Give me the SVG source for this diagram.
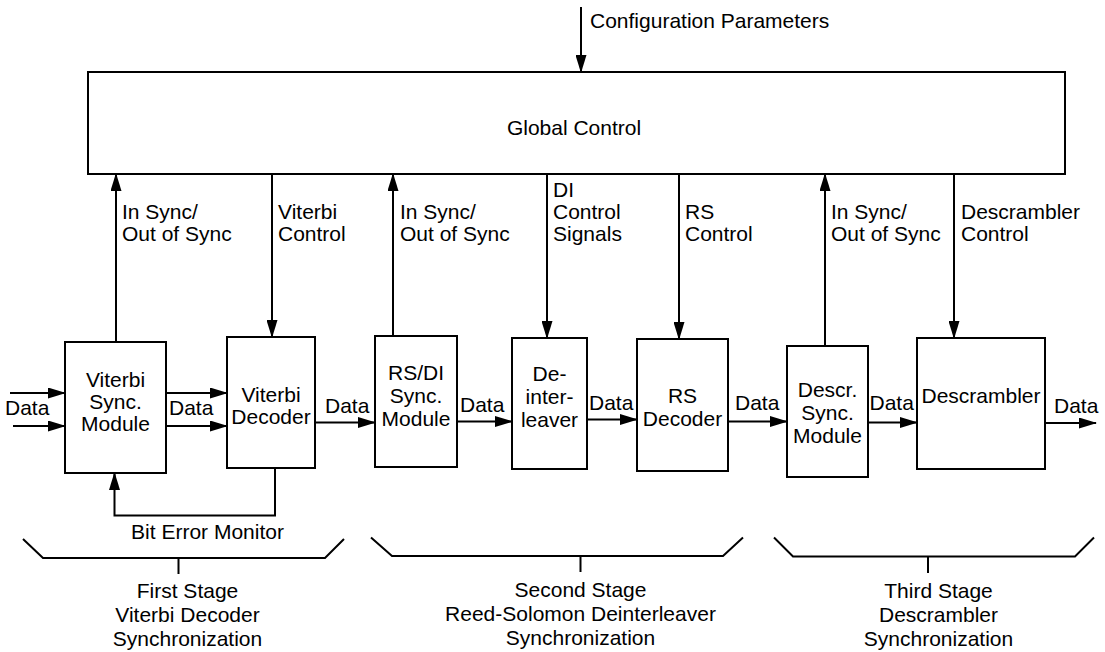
<svg xmlns="http://www.w3.org/2000/svg" width="1105" height="652" viewBox="0 0 1105 652">
<defs>
<marker id="ah" markerUnits="userSpaceOnUse" markerWidth="18" markerHeight="11" refX="17" refY="5.5" orient="auto"><path d="M0,0 L18,5.5 L0,11 Z" fill="#000"/></marker>
</defs>
<style>
text{font-family:"Liberation Sans",Arial,Helvetica,sans-serif;font-size:21px;fill:#000}
.box{fill:#fff;stroke:#000;stroke-width:2}
.c{text-anchor:middle}
.ln{fill:none;stroke:#000;stroke-width:2}
.arr{marker-end:url(#ah)}
</style>
<rect width="1105" height="652" fill="#fff"/>

<g id="global-control">
<rect class="box" x="88" y="72" width="977" height="102"/>
<text class="c" x="574" y="135">Global Control</text>
</g>

<g id="viterbi-sync">
<rect class="box" x="65" y="342" width="101" height="131"/>
<text class="c" x="115.5" y="387">Viterbi</text>
<text class="c" x="115.5" y="409">Sync.</text>
<text class="c" x="115.5" y="431">Module</text>
</g>

<g id="viterbi-decoder">
<rect class="box" x="227" y="337" width="88" height="131"/>
<text class="c" x="271" y="402">Viterbi</text>
<text class="c" x="271" y="424">Decoder</text>
</g>

<g id="rsdi-sync">
<rect class="box" x="375" y="336" width="82" height="131"/>
<text class="c" x="416" y="380">RS/DI</text>
<text class="c" x="416" y="403">Sync.</text>
<text class="c" x="416" y="426">Module</text>
</g>

<g id="deinterleaver">
<rect class="box" x="512" y="338" width="75" height="131"/>
<text class="c" x="549.5" y="381">De-</text>
<text class="c" x="549.5" y="404">inter-</text>
<text class="c" x="549.5" y="427">leaver</text>
</g>

<g id="rs-decoder">
<rect class="box" x="637" y="339" width="91" height="132"/>
<text class="c" x="682.5" y="403">RS</text>
<text class="c" x="682.5" y="426">Decoder</text>
</g>

<g id="descr-sync">
<rect class="box" x="787" y="346" width="81" height="131"/>
<text class="c" x="827.5" y="397">Descr.</text>
<text class="c" x="827.5" y="420">Sync.</text>
<text class="c" x="827.5" y="443">Module</text>
</g>

<g id="descrambler">
<rect class="box" x="917" y="338" width="128" height="131"/>
<text class="c" x="981" y="403">Descrambler</text>
</g>

<g id="connectors">
<line class="ln arr" x1="581" y1="7" x2="581" y2="72"/>
<line class="ln arr" x1="116" y1="342" x2="116" y2="174"/>
<line class="ln arr" x1="272" y1="174" x2="272" y2="337"/>
<line class="ln arr" x1="393" y1="336" x2="393" y2="174"/>
<line class="ln arr" x1="547" y1="174" x2="547" y2="338"/>
<line class="ln arr" x1="679" y1="174" x2="679" y2="339"/>
<line class="ln arr" x1="825" y1="346" x2="825" y2="174"/>
<line class="ln arr" x1="954" y1="174" x2="954" y2="338"/>

<line class="ln arr" x1="10" y1="393" x2="65" y2="393"/>
<line class="ln arr" x1="13" y1="426" x2="65" y2="426"/>
<line class="ln arr" x1="166" y1="393" x2="227" y2="393"/>
<line class="ln arr" x1="166" y1="426" x2="227" y2="426"/>
<line class="ln arr" x1="315" y1="422.5" x2="375" y2="422.5"/>
<line class="ln arr" x1="457" y1="421.5" x2="512" y2="421.5"/>
<line class="ln arr" x1="587" y1="419.5" x2="637" y2="419.5"/>
<line class="ln arr" x1="728" y1="421.5" x2="787" y2="421.5"/>
<line class="ln arr" x1="868" y1="422.5" x2="917" y2="422.5"/>
<line class="ln arr" x1="1045" y1="423" x2="1096" y2="423"/>

<polyline class="ln arr" points="275,468 275,515.5 114.5,515.5 114.5,473"/>
</g>

<g id="connector-labels">
<text x="590" y="28">Configuration Parameters</text>
<text x="122" y="219">In Sync/</text>
<text x="122" y="241">Out of Sync</text>
<text x="278" y="219">Viterbi</text>
<text x="278" y="241">Control</text>
<text x="400" y="219">In Sync/</text>
<text x="400" y="241">Out of Sync</text>
<text x="553" y="197">DI</text>
<text x="553" y="219">Control</text>
<text x="553" y="241">Signals</text>
<text x="685" y="219">RS</text>
<text x="685" y="241">Control</text>
<text x="831" y="219">In Sync/</text>
<text x="831" y="241">Out of Sync</text>
<text x="961" y="219">Descrambler</text>
<text x="961" y="241">Control</text>

<text x="5" y="415">Data</text>
<text x="169" y="415">Data</text>
<text x="325" y="413">Data</text>
<text x="460" y="412">Data</text>
<text x="589" y="410">Data</text>
<text x="735" y="410">Data</text>
<text x="869.5" y="410">Data</text>
<text x="1054" y="413">Data</text>
<text class="c" x="207.5" y="539">Bit Error Monitor</text>
</g>

<g id="stages">
<polyline class="ln" points="23,539 43,558 325,558 344,539"/>
<line class="ln" x1="178.5" y1="558" x2="178.5" y2="574"/>
<text class="c" x="187.5" y="598">First Stage</text>
<text class="c" x="187.5" y="622">Viterbi Decoder</text>
<text class="c" x="187.5" y="646">Synchronization</text>

<polyline class="ln" points="371,537.5 392,556 723,556 743,537.5"/>
<line class="ln" x1="580.5" y1="556" x2="580.5" y2="572"/>
<text class="c" x="580.5" y="597">Second Stage</text>
<text class="c" x="580.5" y="621">Reed-Solomon Deinterleaver</text>
<text class="c" x="580.5" y="645">Synchronization</text>

<polyline class="ln" points="774,537.5 793,556.5 1075,556.5 1094,537.5"/>
<line class="ln" x1="928" y1="556.5" x2="928" y2="573"/>
<text class="c" x="938.5" y="598">Third Stage</text>
<text class="c" x="938.5" y="622">Descrambler</text>
<text class="c" x="938.5" y="646">Synchronization</text>
</g>
</svg>
